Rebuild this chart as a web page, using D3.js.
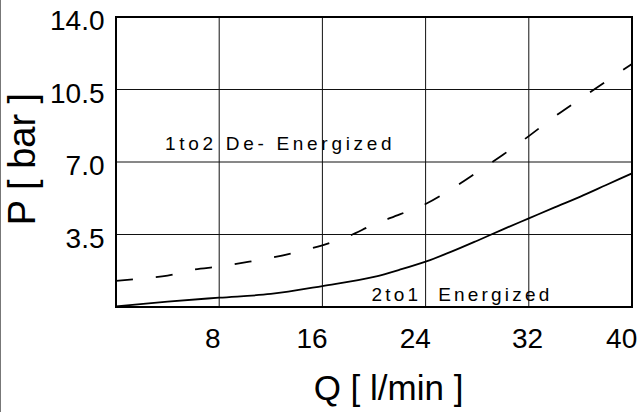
<!DOCTYPE html>
<html>
<head>
<meta charset="utf-8">
<script src="https://cdn.jsdelivr.net/npm/d3@7"></script>
<style>
body { margin: 0; background: #fff; }
svg { display: block; font-family: "Liberation Sans", Arial, sans-serif; }
</style>
</head>
<body>
<svg></svg>
<script>
// tick values and where the x labels sit (they are a bit left of the grid in the original)
var flowTicks = [8, 16, 24, 32, 40]
var flowLabelAt = [7.5, 15.2, 23.2, 31.9, 39.2]
var pressureTicks = [3.5, 7.0, 10.5, 14.0]

// 2to1 Energized (solid)
var energizedQ = [0, 4, 8, 12, 16, 20, 22, 24, 26, 28, 30, 32, 34, 36, 38, 40]
var energizedP = [0.03, 0.26, 0.45, 0.63, 1.01, 1.45, 1.8, 2.19, 2.67, 3.2, 3.75, 4.28, 4.81, 5.33, 5.89, 6.45]

// 1to2 De-Energized (dashed)
var deEnergizedQ = [0, 2, 4, 6, 8, 10, 12, 14, 16, 18, 20, 22, 24, 26, 28, 30, 32, 34, 36, 38, 40]
var deEnergizedP = [1.26, 1.38, 1.52, 1.8, 1.95, 2.15, 2.37, 2.65, 2.98, 3.41, 3.99, 4.47, 4.97, 5.69, 6.51, 7.35, 8.25, 9.19, 10.05, 10.9, 11.73]

var toPoints = function (qs, ps) {
    return qs.map(function (q, i) {
        return { q: q, p: ps[i] }
    })
}

var screen = { width: 638, height: 412 }
var margins = { left: 116, right: 6, top: 17, bottom: 105 }
var graph = {
    width: screen.width - margins.left - margins.right,
    height: screen.height - margins.top - margins.bottom
}

var svg = d3.select("svg")
    .attr("width", screen.width)
    .attr("height", screen.height)

var xScale = d3.scaleLinear()
    .domain([0, 40])
    .range([margins.left, margins.left + graph.width])

var yScale = d3.scaleLinear()
    .domain([0, 14])
    .range([margins.top + graph.height, margins.top])

// thin grey edge down the left side of the picture
svg.append("line")
    .attr("x1", 0.5).attr("x2", 0.5)
    .attr("y1", 0).attr("y2", screen.height)
    .attr("stroke", "#777")

var drawGrid = function () {
    var grid = svg.append("g").attr("class", "grid")
        .attr("stroke", "#111")
        .attr("stroke-width", 1)
    grid.selectAll(".vline")
        .data(flowTicks)
        .enter()
        .append("line")
        .attr("x1", function (d) { return xScale(d) })
        .attr("x2", function (d) { return xScale(d) })
        .attr("y1", yScale(0))
        .attr("y2", yScale(14))
    grid.selectAll(".hline")
        .data(pressureTicks)
        .enter()
        .append("line")
        .attr("x1", xScale(0))
        .attr("x2", xScale(40))
        .attr("y1", function (d) { return yScale(d) })
        .attr("y2", function (d) { return yScale(d) })
}

var drawLines = function () {
    var lineGenerator = d3.line()
        .x(function (d) { return xScale(d.q) })
        .y(function (d) { return yScale(d.p) })
        .curve(d3.curveMonotoneX)

    svg.append("path")
        .datum(toPoints(deEnergizedQ, deEnergizedP))
        .attr("d", lineGenerator)
        .attr("fill", "none")
        .attr("stroke", "#000")
        .attr("stroke-width", 1.8)
        .attr("stroke-dasharray", "17,23")

    svg.append("path")
        .datum(toPoints(energizedQ, energizedP))
        .attr("d", lineGenerator)
        .attr("fill", "none")
        .attr("stroke", "#000")
        .attr("stroke-width", 1.8)
}

var drawFrame = function () {
    svg.append("rect")
        .attr("x", xScale(0))
        .attr("y", yScale(14))
        .attr("width", xScale(40) - xScale(0))
        .attr("height", yScale(0) - yScale(14))
        .attr("fill", "none")
        .attr("stroke", "#000")
        .attr("stroke-width", 2)
}

var drawLabels = function () {
    var labels = svg.append("g").classed("labels", true)

    labels.selectAll(".ylab")
        .data(pressureTicks)
        .enter()
        .append("text")
        .text(function (d) { return d.toFixed(1) })
        .attr("text-anchor", "end")
        .attr("font-size", 28)
        .attr("x", 104.5)
        .attr("y", function (d) { return yScale(d) + 13.3 })

    labels.selectAll(".xlab")
        .data(flowTicks)
        .enter()
        .append("text")
        .text(function (d) { return d })
        .attr("text-anchor", "middle")
        .attr("font-size", 28)
        .attr("x", function (d, i) { return xScale(flowLabelAt[i]) })
        .attr("y", 348)

    labels.append("text")
        .text("Q [ l/min ]")
        .attr("text-anchor", "middle")
        .attr("font-size", 35)
        .attr("x", 388.5)
        .attr("y", 400)

    labels.append("text")
        .text("P [ bar ]")
        .attr("text-anchor", "middle")
        .attr("font-size", 38)
        .attr("transform", "translate(35,159) rotate(-90)")

    labels.append("text")
        .text("1to2 De- Energized")
        .style("white-space", "pre")
        .attr("font-size", 19)
        .attr("letter-spacing", 3.7)
        .attr("x", xScale(3.8))
        .attr("y", yScale(7.58))

    labels.append("text")
        .text("2to1  Energized")
        .style("white-space", "pre")
        .attr("font-size", 19)
        .attr("letter-spacing", 3.2)
        .attr("x", xScale(19.8))
        .attr("y", yScale(0.29))
}

drawGrid()
drawLines()
drawFrame()
drawLabels()
</script>
</body>
</html>
